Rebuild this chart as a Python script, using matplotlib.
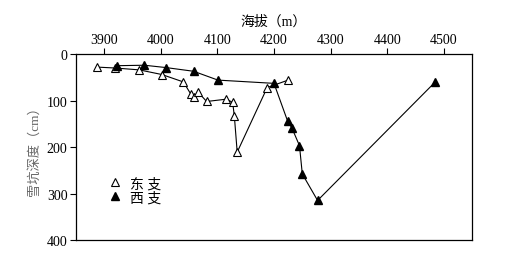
import matplotlib
matplotlib.use("Agg")
import matplotlib.pyplot as plt

plt.rcParams['font.family'] = ['Liberation Serif', 'Noto Sans CJK SC']

# 东支 (open triangles)
east_alt = [3887, 3920, 3962, 4002, 4040, 4053, 4059, 4066, 4081, 4116, 4127, 4130, 4135, 4188, 4225]
east_depth = [28, 30, 34, 44, 60, 86, 93, 82, 102, 97, 104, 134, 211, 72, 56]

# 西支 (filled triangles)
west_alt = [3922, 3971, 4009, 4058, 4101, 4200, 4224, 4232, 4245, 4250, 4277, 4484]
west_depth = [25, 24, 29, 37, 56, 63, 144, 160, 197, 258, 315, 61]

xticks = [3900, 4000, 4100, 4200, 4300, 4400, 4500]
yticks = [0, 100, 200, 300, 400]

fig = plt.figure(figsize=(5.16, 2.55), dpi=100)
ax = fig.add_axes([0.147, 0.055, 0.768, 0.729])

ax.plot(east_alt, east_depth, color='black', linewidth=0.8, marker='^',
        markersize=5.5, markerfacecolor='white', markeredgecolor='black',
        markeredgewidth=0.8, label='东 支', zorder=2)
ax.plot(west_alt, west_depth, color='black', linewidth=0.8, marker='^',
        markersize=5.5, markerfacecolor='black', markeredgecolor='black',
        label='西 支', zorder=3)

ax.set_xlim(3850, 4550)
ax.set_ylim(400, 0)
ax.set_xticks(xticks)
ax.set_yticks(yticks)
ax.xaxis.tick_top()
ax.xaxis.set_label_position('top')
ax.tick_params(direction='out', length=4, width=0.8, labelsize=10)
ax.tick_params(axis='x', pad=2)
ax.tick_params(axis='y', pad=2)
for s in ax.spines.values():
    s.set_linewidth(0.9)

ax.set_xlabel('海拔（m）', fontsize=10, labelpad=6)
ax.set_ylabel('雪坑深度（cm）', fontsize=9.5, color='#666666', labelpad=4)

leg = ax.legend(loc='upper left', bbox_to_anchor=(0.07, 0.37), frameon=False,
                fontsize=10, handlelength=0.8, handletextpad=0.7, labelspacing=0.05,
                borderaxespad=0)
for h in leg.get_lines():
    h.set_linestyle('none')

fig.savefig('out.png', dpi=100)
